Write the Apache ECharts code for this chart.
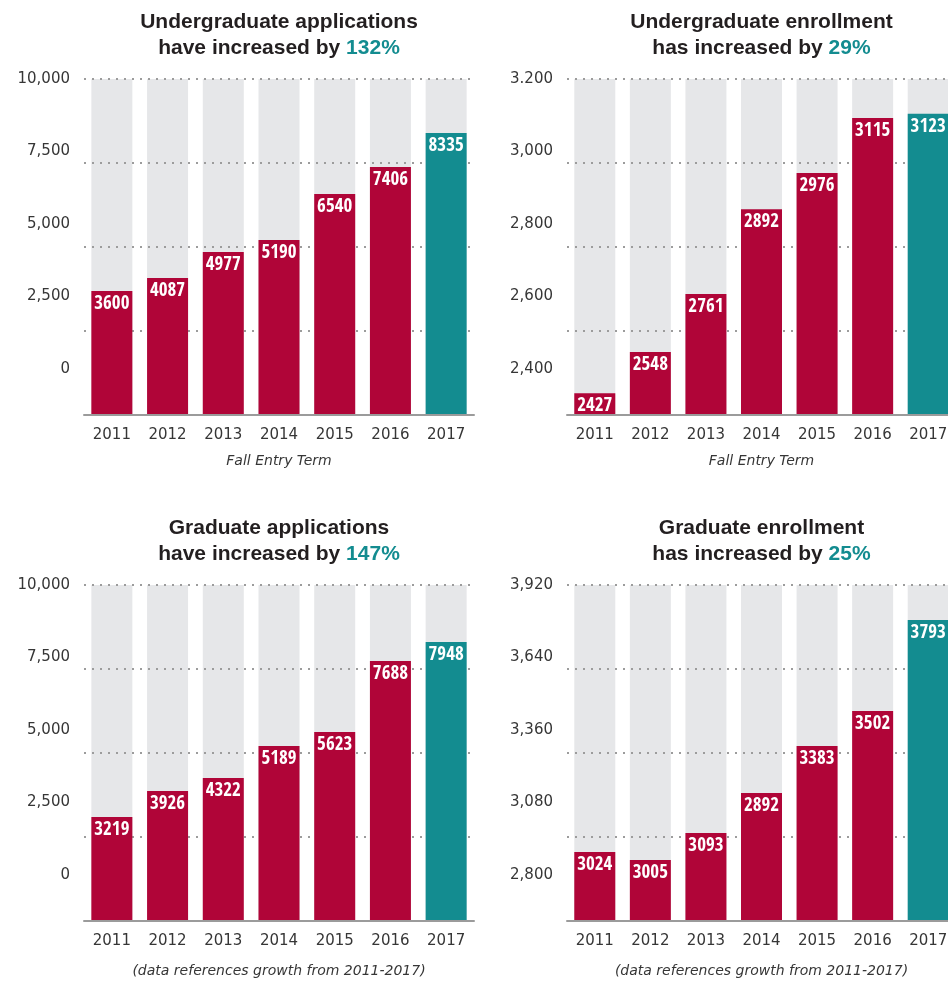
<!DOCTYPE html>
<html><head><meta charset="utf-8">
<script src="https://cdn.jsdelivr.net/npm/echarts@6/dist/echarts.min.js"></script>
<style>html,body{margin:0;padding:0;background:#fff;overflow:hidden}#c{width:964px;height:981px}</style>
</head><body><div id="c"></div>
<script>
// ---- data ----
const years = ['2011', '2012', '2013', '2014', '2015', '2016', '2017'];

// Undergraduate applications
const ugAppValues = [3600, 4087, 4977, 5190, 6540, 7406, 8335];   // printed labels
const ugAppBars   = [3690, 4077, 4851, 5208, 6577, 7381, 8393];   // bar heights as drawn
const ugAppTicks  = ['0', '2,500', '5,000', '7,500', '10,000'];

// Undergraduate enrollment
const ugEnrValues = [2427, 2548, 2761, 2892, 2976, 3115, 3123];
const ugEnrBars   = [2452, 2550, 2688, 2890, 2976, 3107, 3117];
const ugEnrTicks  = ['2,400', '2,600', '2,800', '3,000', '3.200'];

// Graduate applications
const grAppValues = [3219, 3926, 4322, 5189, 5623, 7688, 7948];
const grAppBars   = [3095, 3869, 4256, 5208, 5625, 7738, 8304];
const grAppTicks  = ['0', '2,500', '5,000', '7,500', '10,000'];

// Graduate enrollment
const grEnrValues = [3024, 3005, 3093, 2892, 3383, 3502, 3793];
const grEnrBars   = [3030, 3003, 3093, 3227, 3383, 3500, 3803];
const grEnrTicks  = ['2,800', '3,080', '3,360', '3,640', '3,920'];

const titles = [
  ['Undergraduate applications', 'have increased by ', '132%'],
  ['Undergraduate enrollment', 'has increased by ', '29%'],
  ['Graduate applications', 'have increased by ', '147%'],
  ['Graduate enrollment', 'has increased by ', '25%']
];
const footers = ['Fall Entry Term', 'Fall Entry Term',
  '(data references growth from 2011-2017)', '(data references growth from 2011-2017)'];

// ---- styling / layout ----
const CRIMSON = '#b00538', TEAL = '#138c90', BG = '#e6e7e9', TXT = '#363636', TITLE = '#231f20';
const TITLE_FONT = "'Liberation Sans', Arial, sans-serif";
const BAR_FONT = "'Noto Sans Condensed', 'Noto Sans ExtraCondensed', 'Open Sans Condensed', 'DejaVu Sans Condensed', sans-serif";
const panels = [
  {left: 84,  top: 79,  width: 390, min: 0,    max: 10000, interval: 2500, values: ugAppValues, bars: ugAppBars, ticks: ugAppTicks, nameGap: 39},
  {left: 567, top: 79,  width: 389, min: 2400, max: 3200,  interval: 200,  values: ugEnrValues, bars: ugEnrBars, ticks: ugEnrTicks, nameGap: 39},
  {left: 84,  top: 585, width: 390, min: 0,    max: 10000, interval: 2500, values: grAppValues, bars: grAppBars, ticks: grAppTicks, nameGap: 43},
  {left: 567, top: 585, width: 389, min: 2800, max: 3920,  interval: 280,  values: grEnrValues, bars: grEnrBars, ticks: grEnrTicks, nameGap: 43}
];
const PLOT_H = 336, LABEL_H = 290;

const grid = [], xAxis = [], yAxis = [], series = [], graphic = [];
panels.forEach((p, i) => {
  const gMain = 2 * i, gLab = 2 * i + 1;
  grid.push({left: p.left, top: p.top, width: p.width, height: PLOT_H, containLabel: false});
  grid.push({left: p.left, top: p.top, width: p.width, height: LABEL_H, containLabel: false});
  xAxis.push({
    type: 'category', gridIndex: gMain, data: years, z: 5,
    axisTick: {show: false},
    axisLine: {show: true, lineStyle: {color: '#9b9b9b', width: 2}},
    axisLabel: {color: TXT, fontSize: 15, fontFamily: 'DejaVu Sans', margin: 13},
    name: footers[i], nameLocation: 'middle', nameGap: p.nameGap,
    nameTextStyle: {color: TXT, fontSize: 14, fontStyle: 'italic', fontFamily: 'DejaVu Sans'}
  });
  xAxis.push({type: 'category', gridIndex: gLab, data: years, show: false});
  yAxis.push({
    type: 'value', gridIndex: gMain, min: p.min, max: p.max, interval: p.interval, z: 3,
    axisLabel: {show: false}, axisLine: {show: false}, axisTick: {show: false},
    splitLine: {show: true, lineStyle: {color: '#9c9c9c', width: 2, type: [2, 6]}}
  });
  yAxis.push({
    type: 'value', gridIndex: gLab, min: p.min, max: p.max, interval: p.interval,
    axisLine: {show: false}, axisTick: {show: false}, splitLine: {show: false},
    axisLabel: {color: TXT, fontSize: 15, fontFamily: 'DejaVu Sans', margin: 14,
      formatter: (v, idx) => p.ticks[idx]}
  });
  series.push({
    type: 'bar', xAxisIndex: gMain, yAxisIndex: gMain, barWidth: 41, barGap: '-100%',
    z: 1, silent: true, itemStyle: {color: BG},
    data: years.map(() => p.max)
  });
  series.push({
    type: 'bar', xAxisIndex: gMain, yAxisIndex: gMain, barWidth: 41, barGap: '-100%',
    z: 4, clip: true,
    data: p.bars.map((v, j) => ({value: v, itemStyle: {color: j === years.length - 1 ? TEAL : CRIMSON}})),
    label: {
      show: true, position: 'insideTop', distance: 3,
      formatter: (prm) => String(p.values[prm.dataIndex]),
      color: '#ffffff', fontSize: 19, fontWeight: 'bold', lineHeight: 20,
      fontFamily: BAR_FONT
    }
  });
  const t = titles[i];
  graphic.push({
    type: 'text', x: p.left + p.width / 2, y: p.top - 70,
    style: {
      text: '{a|' + t[0] + '}\n{a|' + t[1] + '}{b|' + t[2] + '}',
      align: 'center', verticalAlign: 'top',
      rich: {
        a: {fontSize: 21, fontWeight: 'bold', fontFamily: TITLE_FONT, fill: TITLE, lineHeight: 26},
        b: {fontSize: 21, fontWeight: 'bold', fontFamily: TITLE_FONT, fill: TEAL, lineHeight: 26}
      }
    }
  });
});

const chart = echarts.init(document.getElementById('c'), null, {renderer: 'canvas'});
chart.setOption({animation: false, grid, xAxis, yAxis, series, graphic});
</script>
</body></html>
